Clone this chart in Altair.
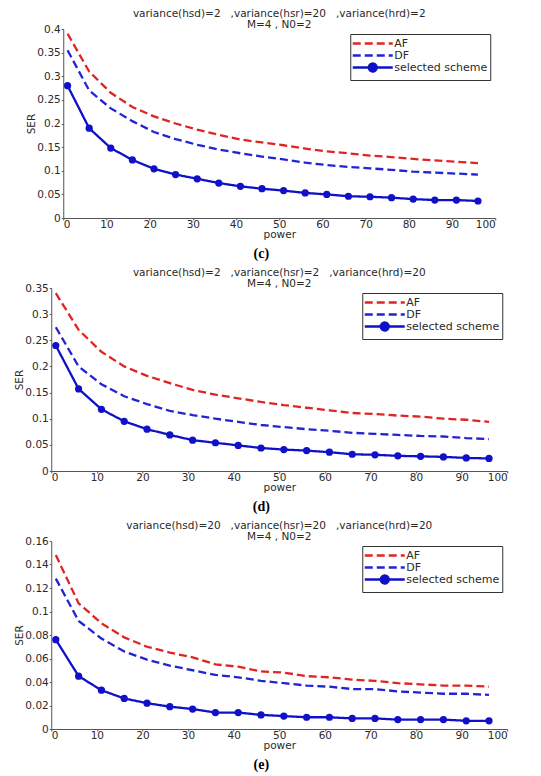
import altair as alt
import pandas as pd

# Transmit power sample points shared by every curve
power = [1, 6, 11, 16, 21, 26, 31, 36, 41, 46, 51, 56, 61, 66, 71, 76, 81, 86, 91, 96]
schemes = ["AF", "DF", "selected scheme"]
scheme_colors = ["#e02424", "#2323d6", "#1010c8"]
x_ticks = [0, 10, 20, 30, 40, 50, 60, 70, 80, 90, 100]

# (c) variance(hsd)=2, variance(hsr)=20, variance(hrd)=2
af_c = [0.390, 0.310, 0.265, 0.235, 0.215, 0.200, 0.187, 0.176, 0.166, 0.160,
        0.154, 0.147, 0.141, 0.137, 0.132, 0.129, 0.125, 0.122, 0.119, 0.116]
df_c = [0.355, 0.270, 0.232, 0.205, 0.182, 0.167, 0.155, 0.145, 0.137, 0.130,
        0.124, 0.117, 0.112, 0.108, 0.105, 0.102, 0.098, 0.096, 0.094, 0.092]
sel_c = [0.280, 0.190, 0.148, 0.123, 0.104, 0.092, 0.083, 0.074, 0.067, 0.062,
         0.058, 0.053, 0.050, 0.046, 0.045, 0.043, 0.040, 0.038, 0.038, 0.036]
y_ticks_c = [0, 0.05, 0.1, 0.15, 0.2, 0.25, 0.3, 0.35, 0.4]

# (d) variance(hsd)=2, variance(hsr)=2, variance(hrd)=20
af_d = [0.340, 0.270, 0.228, 0.200, 0.182, 0.168, 0.155, 0.146, 0.139, 0.132,
        0.126, 0.121, 0.116, 0.111, 0.109, 0.106, 0.104, 0.100, 0.098, 0.094]
df_d = [0.275, 0.200, 0.166, 0.143, 0.128, 0.115, 0.107, 0.100, 0.094, 0.088,
        0.084, 0.080, 0.077, 0.073, 0.071, 0.069, 0.067, 0.066, 0.063, 0.061]
sel_d = [0.240, 0.157, 0.118, 0.095, 0.080, 0.069, 0.059, 0.054, 0.049, 0.044,
         0.041, 0.039, 0.036, 0.032, 0.031, 0.029, 0.028, 0.027, 0.025, 0.024]
y_ticks_d = [0, 0.05, 0.1, 0.15, 0.2, 0.25, 0.3, 0.35]

# (e) variance(hsd)=20, variance(hsr)=20, variance(hrd)=20
af_e = [0.148, 0.107, 0.090, 0.078, 0.070, 0.065, 0.061, 0.055, 0.053, 0.049,
        0.048, 0.045, 0.044, 0.042, 0.041, 0.039, 0.038, 0.037, 0.037, 0.036]
df_e = [0.128, 0.092, 0.077, 0.066, 0.059, 0.054, 0.050, 0.046, 0.044, 0.041,
        0.039, 0.037, 0.036, 0.034, 0.034, 0.032, 0.031, 0.030, 0.030, 0.029]
sel_e = [0.076, 0.045, 0.033, 0.026, 0.022, 0.019, 0.017, 0.014, 0.014, 0.012,
         0.011, 0.010, 0.010, 0.009, 0.009, 0.008, 0.008, 0.008, 0.007, 0.007]
y_ticks_e = [0, 0.02, 0.04, 0.06, 0.08, 0.1, 0.12, 0.14, 0.16]

NB = "\u00a0"
header_c = ["variance(hsd)=2" + NB * 3 + ",variance(hsr)=20" + NB * 3 + ",variance(hrd)=2", "M=4 , N0=2"]
header_d = ["variance(hsd)=2" + NB * 3 + ",variance(hsr)=2" + NB * 3 + ",variance(hrd)=20", "M=4 , N0=2"]
header_e = ["variance(hsd)=20" + NB * 3 + ",variance(hsr)=20" + NB * 3 + ",variance(hrd)=20", "M=4 , N0=2"]

FONT = "DejaVu Sans"
TXT = "#2a2a2a"
FS = 10.5

# Legend glyphs: a dashed stroke for AF/DF, a stroke with a dot for the selected scheme
DASH_GLYPH = "M-4,0H4"
DOT_GLYPH = "M-4,0H4M0.8,0A0.8,0.8,0,1,1,-0.8,0A0.8,0.8,0,1,1,0.8,0Z"

INDEP = dict(color="independent", strokeDash="independent", shape="independent")


def panel(af, dfv, sel, y_ticks, header, caption, width, height):
    rows = []
    for name, vals in zip(schemes, [af, dfv, sel]):
        for p, v in zip(power, vals):
            rows.append({"power": p, "SER": v, "scheme": name})
    data = pd.DataFrame(rows)

    x = alt.X("power:Q", scale=alt.Scale(domain=[0, 100], nice=False),
              axis=alt.Axis(title="power", values=x_ticks, format="d",
                            labelPadding=-1, titlePadding=0))
    y = alt.Y("SER:Q", scale=alt.Scale(domain=[y_ticks[0], y_ticks[-1]], nice=False),
              axis=alt.Axis(title="SER", values=y_ticks, format=".2~f"))
    legend = alt.Legend(title=None, orient="top-right", offset=5)
    color = alt.Color("scheme:N", scale=alt.Scale(domain=schemes, range=scheme_colors),
                      legend=legend)
    dash = alt.StrokeDash("scheme:N",
                          scale=alt.Scale(domain=schemes, range=[[8, 4], [8, 4], [1, 0]]),
                          legend=legend)

    lines = alt.Chart(data).mark_line(strokeWidth=2.3).encode(
        x=x, y=y, color=color, strokeDash=dash, order="power:Q")
    dots = alt.Chart(data).transform_filter(
        alt.datum.scheme == "selected scheme"
    ).mark_point(shape="circle", filled=True, size=52, opacity=1).encode(
        x=x, y=y, color=color)
    glyphs = alt.Chart(alt.InlineData(values=[])).mark_point(opacity=1, strokeWidth=2.3).encode(
        shape=alt.Shape("scheme:N",
                        scale=alt.Scale(domain=schemes, range=[DASH_GLYPH, DASH_GLYPH, DOT_GLYPH]),
                        legend=legend),
        color=color,
    )

    plot = alt.layer(lines, dots, glyphs).properties(
        width=width, height=height,
        title=alt.TitleParams(header, anchor="middle", frame="group", font=FONT,
                              fontSize=FS, fontWeight="normal", color=TXT,
                              lineHeight=10.5, offset=-6),
    )
    return alt.vconcat(plot).resolve_scale(**INDEP).resolve_legend(**INDEP).properties(
        title=alt.TitleParams(caption, orient="bottom", anchor="middle",
                              font="Liberation Serif", fontSize=14, fontWeight="bold",
                              color="black", offset=7)
    )


chart = alt.vconcat(
    panel(af_c, df_c, sel_c, y_ticks_c, header_c, "(c)", 432, 189),
    panel(af_d, df_d, sel_d, y_ticks_d, header_d, "(d)", 456, 183),
    panel(af_e, df_e, sel_e, y_ticks_e, header_e, "(e)", 456, 188),
    spacing=7, center=True,
).resolve_scale(**INDEP).resolve_legend(**INDEP).properties(
    padding={"top": 9, "left": 14, "right": 2, "bottom": 0},
    background="white",
).configure(font=FONT).configure_view(stroke=None).configure_axis(
    grid=False, domainColor="#555", tickColor="#555", tickSize=2,
    labelFont=FONT, labelFontSize=FS, labelColor=TXT, labelPadding=1,
    titleFont=FONT, titleFontSize=FS, titleColor=TXT, titleFontWeight="normal",
    titlePadding=0,
).configure_legend(
    strokeColor="#333", fillColor="white",
    padding=3, labelFont=FONT, labelFontSize=11, labelColor=TXT,
    symbolStrokeWidth=2.3, symbolOpacity=1,
    rowPadding=-6, symbolOffset=13, labelOffset=15, cornerRadius=0,
)

chart.save("out.html", embed_options={"renderer": "svg", "actions": False})
